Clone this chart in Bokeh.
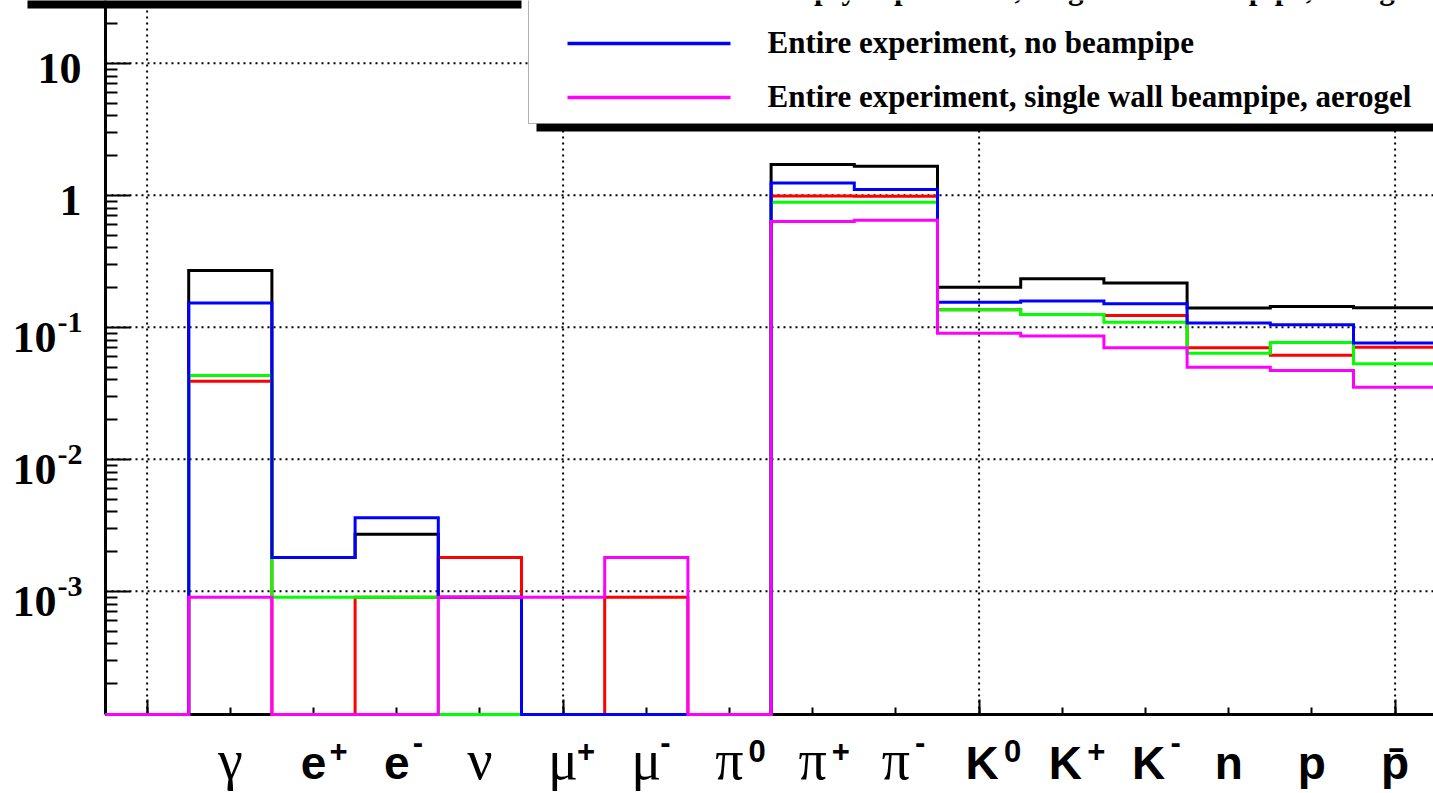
import numpy as np
from bokeh.plotting import figure
from bokeh.models import Range1d, FixedTicker, Label, BoxAnnotation, CustomJSTickFormatter
from bokeh.embed import file_html
from bokeh.resources import INLINE

# ---- data ----
bin_centers = list(range(16))
particle_base = ["", "γ", "e", "e", "ν", "μ", "μ", "π", "π", "π", "K", "K", "K", "n", "p", "p̄"]
particle_charge = ["", "", "+", "-", "", "+", "-", "0", "+", "-", "0", "+", "-", "", "", ""]

series_black = [0, 0.269, 0.0018, 0.0027, 0.0009, 0, 0, 0, 1.71, 1.66, 0.201, 0.233, 0.217, 0.140, 0.144, 0.1405]
series_red = [0, 0.039, 0, 0.0009, 0.0018, 0, 0.0009, 0, 0.99, 0.985, 0.1356, 0.125, 0.123, 0.070, 0.0615, 0.0707]
series_green = [0, 0.0431, 0.0009, 0.0009, 0, 0, 0, 0, 0.887, 0.887, 0.1356, 0.125, 0.109, 0.0637, 0.0767, 0.0529]
series_blue = [0, 0.153, 0.0018, 0.0036, 0.0009, 0, 0, 0, 1.24, 1.106, 0.155, 0.158, 0.151, 0.108, 0.1045, 0.0759]
series_magenta = [0, 0.0009, 0, 0, 0.0009, 0.0009, 0.0018, 0, 0.633, 0.648, 0.090, 0.086, 0.070, 0.0499, 0.0471, 0.0352]

legend_labels = ["Empty experiment, single wall beampipe, aerogel",
                 "Entire experiment, no beampipe",
                 "Entire experiment, single wall beampipe, aerogel"]
legend_colors = ["#00ff00", "#0000ff", "#ff00ff"]

y_major = [1e-3, 1e-2, 1e-1, 1, 10]
y_major_base = ["10", "10", "10", "1", "10"]
y_major_exp = ["-3", "-2", "-1", "", ""]

# ---- layout (canvas pixels, origin top-left) ----
W, H = 1433, 793
FL, FB = 105, 714            # axis positions: left / bottom
DEC = 132.0                  # px per decade
Y_ONE = 194.8                # px of y = 1
BINW = 83.2                  # px per bin
K = 0.37                     # baseline correction (fraction of font size)

def xdata(px):
    return -0.5 + (px - FL) / BINW

def ydata(py):
    return 10 ** ((Y_ONE - py) / DEC)

X_LO, X_HI = xdata(0), xdata(W)
Y_LO, Y_HI = ydata(H), ydata(0)
Y_FLOOR = ydata(FB)
X_AXIS0 = -0.5

def cx(x):
    return FL + (x - X_AXIS0) * BINW

def ytop_of(v):
    return Y_ONE - DEC * np.log10(v)

p = figure(width=W, height=H, y_axis_type="log", output_backend="svg", toolbar_location=None,
           x_range=Range1d(X_LO, X_HI), y_range=Range1d(Y_LO, Y_HI),
           min_border_left=0, min_border_right=0, min_border_top=0, min_border_bottom=0)
p.outline_line_color = None
p.background_fill_color = "white"
p.border_fill_color = "white"

y_minor = [m * 10.0 ** e for e in range(-4, 2) for m in range(2, 10)]
p.yaxis.ticker = FixedTicker(ticks=y_major, minor_ticks=y_minor)
p.xaxis.ticker = FixedTicker(ticks=[0, 5, 10, 15], minor_ticks=bin_centers)
p.xaxis.fixed_location = Y_FLOOR
p.yaxis.fixed_location = X_AXIS0
p.xaxis.bounds = (X_AXIS0, X_HI)
p.yaxis.bounds = (Y_FLOOR, Y_HI)
for ax in (p.xaxis[0], p.yaxis[0]):
    ax.formatter = CustomJSTickFormatter(code="return ''")
    ax.axis_line_width = 3
    ax.axis_line_color = "black"
    ax.major_tick_out = 0
    ax.minor_tick_out = 0
    ax.major_tick_line_width = 2
    ax.minor_tick_line_width = 2
    ax.major_label_text_font_size = "1px"
    ax.major_label_standoff = 0
    ax.level = "underlay"
p.yaxis.major_tick_in = 25
p.yaxis.minor_tick_in = 12
p.xaxis.major_tick_in = 15
p.xaxis.minor_tick_in = 7
p.xgrid.visible = False
p.ygrid.visible = False

# dotted grid at the major ticks, limited to the plotting area
gx = [0, 5, 10, 15]
p.segment(x0=gx, x1=gx, y0=[Y_FLOOR] * len(gx), y1=[Y_HI] * len(gx),
          line_color="black", line_dash="2 4", line_width=2, level="underlay")
p.segment(x0=[X_AXIS0] * len(y_major), x1=[X_HI] * len(y_major), y0=y_major, y1=y_major,
          line_color="black", line_dash="2 4", line_width=2, level="underlay")

edges = np.arange(len(bin_centers) + 1) - 0.5
xs = np.concatenate([[edges[0]], np.repeat(edges, 2)[1:-1]])

def outline(vals):
    v = np.maximum(np.array(vals, dtype=float), Y_FLOOR)
    return np.concatenate([[Y_FLOOR], np.repeat(v, 2)])

for vals, col in [(series_black, "black"), (series_red, "#ff0000"), (series_green, "#00ff00"),
                  (series_blue, "#0000ff"), (series_magenta, "#ff00ff")]:
    p.line(xs, outline(vals), line_color=col, line_width=3, line_join="miter")

def label(x, baseline, text, font, style, size, align="left"):
    p.add_layout(Label(x=x, y=baseline - K * size, x_units="canvas", y_units="canvas", text=text,
                       text_align=align, text_baseline="alphabetic", text_font=font,
                       text_font_style=style, text_font_size=f"{size}px", text_color="black"))

# y tick labels
for val, base, ex in zip(y_major, y_major_base, y_major_exp):
    t = ytop_of(val)
    if ex:
        label(56, t + 26, base, "Liberation Serif", "bold", 44, "right")
        label(57, t + 6, ex, "Liberation Serif", "bold", 30, "left")
    else:
        label(81, t + 21, base, "Liberation Serif", "bold", 44, "right")

# x tick labels
sup_dx = {"e": 16, "μ": 14, "π": 19, "K": 22}
base_dx = {"K": 3}
greek = set("γνμπ")
for xc, base, ch in zip(bin_centers, particle_base, particle_charge):
    if not base:
        continue
    bx = cx(xc) + base_dx.get(base, 0)
    if base in greek:
        label(bx, 780, base, "Liberation Serif", "normal", 56, "center")
    else:
        label(bx, 780, base, "Liberation Sans", "bold", 46, "center")
    if ch:
        lift = 9 if ch == "-" else 0
        label(bx + sup_dx.get(base, 16), 762 - lift, ch, "Liberation Sans", "bold", 31, "left")

def box(left, right, top, bottom, color, line=None):
    p.add_layout(BoxAnnotation(left=left, right=right, top=top, bottom=bottom,
                               left_units="canvas", right_units="canvas", top_units="canvas",
                               bottom_units="canvas", fill_color=color, fill_alpha=1,
                               line_color=line, line_width=1, level="annotation"))

# title box shadow (cut by the top edge)
box(27, 521, -20, 8, "black")

# legend (cut by the top and right edges)
box(536, W + 20, 123, 131, "black")
box(528, W + 20, -300, 123, "white", "black")
for i, (lab, col) in enumerate(zip(legend_labels, legend_colors)):
    yc = -11 + 54 * i
    box(567, 730, yc - 1.75, yc + 1.75, col)
    label(767, yc + 10, lab, "Liberation Serif", "bold", 31, "left")

open("out.html", "w").write(file_html(p, INLINE))
